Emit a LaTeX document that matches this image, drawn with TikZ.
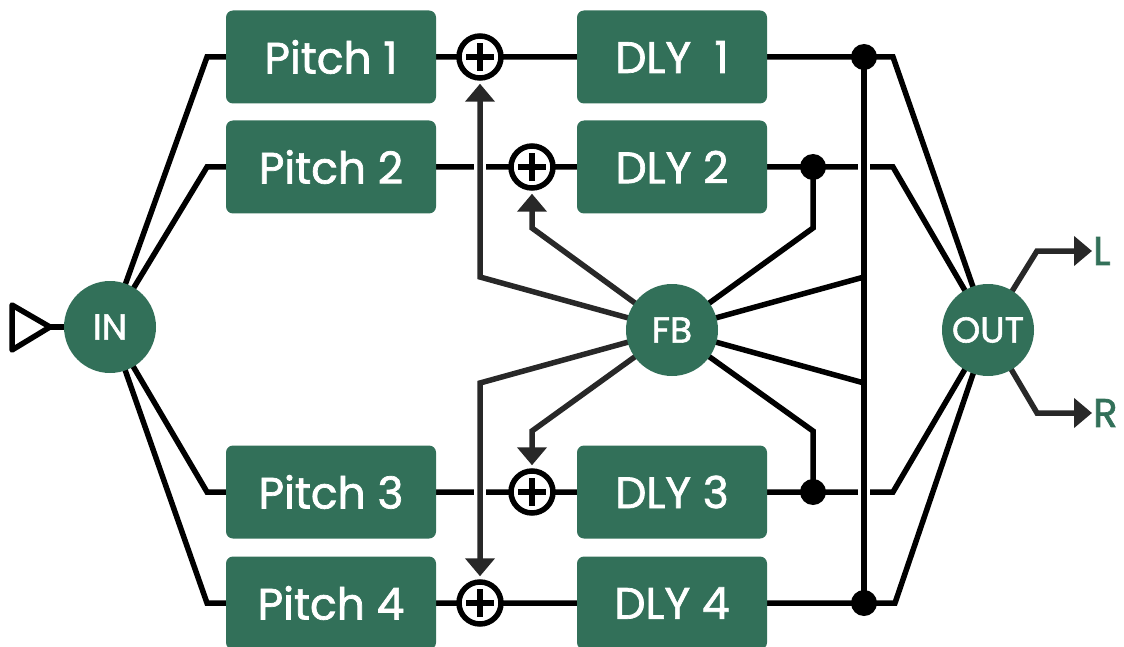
\documentclass[tikz,border=0pt]{standalone}
\usepackage{fontspec}
\setmainfont{Poppins}
\newfontfamily\lblfont{Poppins}[FakeBold=1.6]
\usetikzlibrary{arrows.meta,backgrounds}
\definecolor{dgreen}{RGB}{50,112,89}
\definecolor{agray}{RGB}{40,40,40}
\begin{document}
\begin{tikzpicture}[x=1pt,y=-1pt,
  box/.style={fill=dgreen, rounded corners=7pt, minimum width=210pt, minimum height=93pt, inner sep=0pt, text=white, font=\lblfont\fontsize{44}{52}\selectfont},
  dbox/.style={box, minimum width=190pt},
  hub/.style={circle, fill=dgreen, minimum size=92pt, inner sep=0pt, text=white, font=\lblfont\fontsize{36}{42}\selectfont},
  sum/.style={circle, draw=black, fill=white, line width=5.5pt, minimum size=42pt, inner sep=0pt,
    path picture={\draw[line width=5.5pt,black]
      ([xshift=-14pt]path picture bounding box.center) -- ([xshift=14pt]path picture bounding box.center)
      ([yshift=-14pt]path picture bounding box.center) -- ([yshift=14pt]path picture bounding box.center);}},
  junc/.style={circle, fill=black, minimum size=26pt, inner sep=0pt},
  wire/.style={line width=5.5pt, black},
  fbwire/.style={line width=5.5pt, agray},
  fbarrow/.style={fbwire, -{Triangle[width=29pt,length=18pt]}, shorten >=3pt},
  halo/.style={line width=12pt, white},
  outlbl/.style={text=dgreen, anchor=west, inner sep=0pt, font=\lblfont\fontsize{40}{46}\selectfont},
]
\useasboundingbox (0,0) rectangle (1124,647);
% hubs
\node[hub] (IN) at (110,327) {IN};
\node[hub] (FB) at (672,330) {FB};
\node[hub] (OUT) at (988,330) {OUT};
% pitch boxes
\node[box] (P1) at (331,57) {Pitch 1};
\node[box] (P2) at (331,167) {Pitch 2};
\node[box] (P3) at (331,492) {Pitch 3};
\node[box] (P4) at (331,603) {Pitch 4};
% delay boxes
\node[dbox] (D1) at (672,57) {DLY\ \ 1};
\node[dbox] (D2) at (672,167) {DLY 2};
\node[dbox] (D3) at (672,492) {DLY 3};
\node[dbox] (D4) at (672,603) {DLY 4};
% summers
\node[sum] (S1) at (480,57) {};
\node[sum] (S2) at (532,167) {};
\node[sum] (S3) at (532,492) {};
\node[sum] (S4) at (480,603) {};
% junctions
\node[junc] (J1) at (864,57) {};
\node[junc] (J2) at (813,167) {};
\node[junc] (J3) at (813,492) {};
\node[junc] (J4) at (864,603) {};
% outputs
\node[outlbl] (L) at (1093,251) {L};
\node[outlbl] (R) at (1093,413) {R};
% coordinates
\coordinate (tipin) at (50,327);
\coordinate (a1) at (207,57);
\coordinate (a2) at (207,167);
\coordinate (a3) at (207,492);
\coordinate (a4) at (207,603);
\coordinate (c1) at (893,57);
\coordinate (c2) at (893,167);
\coordinate (c3) at (893,492);
\coordinate (c4) at (895,603);
\coordinate (b1) at (480,277);
\coordinate (b2) at (532,228);
\coordinate (b3) at (532,431);
\coordinate (b4) at (480,383);
\coordinate (e2) at (813,228);
\coordinate (e3) at (813,431);
\coordinate (v1) at (864,277);
\coordinate (v2) at (864,383);
\coordinate (lb) at (1037,251);
\coordinate (rb) at (1037,413);
\begin{pgfonlayer}{background}
  % input triangle
  \draw[wire, line join=round] (12,305) -- (tipin) -- (12,350) -- cycle;
  \draw[wire] (tipin) -- (IN.center);
  % signal rows
  \foreach \i in {1,2,3,4}{
    \draw[wire] (IN.center) -- (a\i) -- (P\i.center) -- (D\i.center) -- (c\i) -- (OUT.center);
  }
  % crossing gaps
  \draw[halo, shorten >=4pt] (b1) -- (S1);
  \draw[halo, shorten >=4pt] (b4) -- (S4);
  \draw[halo] (J1.center) -- (J4.center);
  \draw[wire] (J1.center) -- (J4.center);
  % feedback returns
  \draw[fbarrow] (FB.center) -- (b1) -- (S1.south);
  \draw[fbarrow] (FB.center) -- (b2) -- (S2.south);
  \draw[fbarrow] (FB.center) -- (b3) -- (S3.north);
  \draw[fbarrow] (FB.center) -- (b4) -- (S4.north);
  \draw[wire] (FB.center) -- (e2) -- (J2.center);
  \draw[wire] (FB.center) -- (e3) -- (J3.center);
  \draw[wire] (FB.center) -- (v1);
  \draw[wire] (FB.center) -- (v2);
  % outputs
  \draw[fbarrow, shorten >=1pt] (OUT.center) -- (lb) -- (L.west);
  \draw[fbarrow, shorten >=1pt] (OUT.center) -- (rb) -- (R.west);
\end{pgfonlayer}
\end{tikzpicture}
\end{document}
